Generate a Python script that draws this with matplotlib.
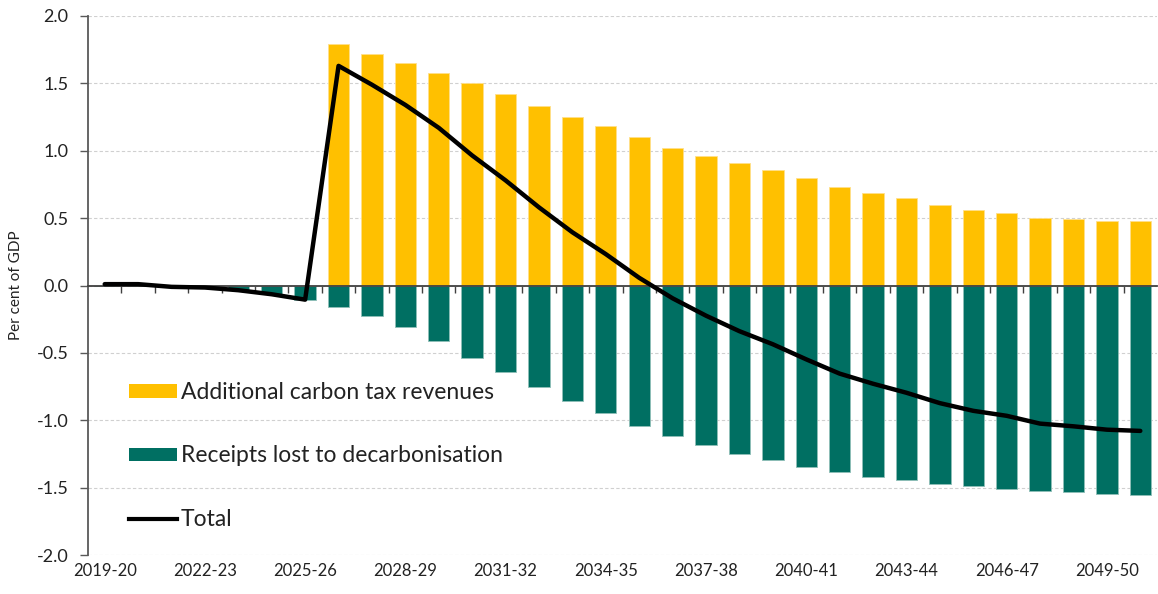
import matplotlib
matplotlib.use("Agg")
import matplotlib.pyplot as plt
from matplotlib.patches import Patch
from matplotlib.lines import Line2D

years = [f"{y}-{str(y + 1)[-2:]}" for y in range(2019, 2051)]

carbon_tax = [0, 0, 0, 0, 0, 0, 0,
              1.79, 1.72, 1.65, 1.58, 1.50, 1.42, 1.33, 1.25, 1.18, 1.10, 1.02,
              0.96, 0.91, 0.86, 0.80, 0.73, 0.69, 0.65, 0.60, 0.56, 0.54, 0.50,
              0.49, 0.475, 0.475]

receipts_lost = [0, 0, 0, -0.01, -0.035, -0.065, -0.105,
                 -0.16, -0.23, -0.31, -0.41, -0.535, -0.64, -0.75, -0.855, -0.947,
                 -1.043, -1.115, -1.184, -1.249, -1.296, -1.348, -1.384, -1.419,
                 -1.446, -1.473, -1.49, -1.507, -1.525, -1.535, -1.545, -1.554]

total = [0.01, 0.01, -0.01, -0.015, -0.035, -0.065, -0.105,
         1.63, 1.49, 1.34, 1.17, 0.965, 0.78, 0.58, 0.395, 0.233,
         0.057, -0.095, -0.224, -0.339, -0.436, -0.548, -0.654, -0.729,
         -0.796, -0.873, -0.93, -0.967, -1.025, -1.045, -1.07, -1.079]

tick_labels = years[::3]

YELLOW = "#FFC000"
GREEN = "#006F62"
FONT = ["Lato", "DejaVu Sans"]
plt.rcParams["font.family"] = FONT

fig = plt.figure(figsize=(11.58, 5.94), dpi=100)
ax = fig.add_axes([88 / 1158, 1 - 555 / 594, (1157 - 88) / 1158, (555 - 16) / 594])

x = list(range(len(years)))
ax.bar(x, carbon_tax, width=0.64, color=YELLOW, edgecolor="#FFE08A", linewidth=0.6, zorder=2)
ax.bar(x, receipts_lost, width=0.64, color=GREEN, edgecolor="#8FBFB8", linewidth=0.6, zorder=2)
ax.plot(x, total, color="black", linewidth=3.2, solid_capstyle="round", solid_joinstyle="round", zorder=4)

ax.set_xlim(-0.5, len(years) - 0.5)
ax.set_ylim(-2.0, 2.0)
yt = [-2.0, -1.5, -1.0, -0.5, 0.0, 0.5, 1.0, 1.5, 2.0]
ax.set_yticks(yt)
ax.set_yticklabels([f"{v:.1f}" for v in yt])
ax.yaxis.grid(True, color="#D0D0D0", linestyle=(0, (3, 2)), linewidth=0.8, zorder=0)
ax.set_axisbelow(True)

for s in ["top", "right"]:
    ax.spines[s].set_visible(False)
ax.spines["left"].set_color("#595959")
ax.spines["left"].set_linewidth(1.3)
ax.spines["bottom"].set_position(("data", 0))
ax.spines["bottom"].set_color("#404040")
ax.spines["bottom"].set_linewidth(1.3)
ax.spines["bottom"].set_zorder(3)

ax.set_xticks([i + 0.5 for i in range(len(years) - 1)])
ax.set_xticklabels([])
ax.tick_params(axis="x", direction="out", length=5, width=1.0, color="#404040")
ax.tick_params(axis="y", direction="out", length=6, width=1.0, color="#595959",
               labelsize=13, labelcolor="#222222", pad=8)

sec = ax.secondary_xaxis(location=0)
sec.set_xticks(x[::3])
sec.set_xticklabels(tick_labels)
sec.tick_params(length=0, labelsize=12, labelcolor="#222222", pad=6)
sec.spines["bottom"].set_visible(False)

ax.set_ylabel("Per cent of GDP", fontsize=11, color="#222222", labelpad=10)

handles = [Patch(facecolor=YELLOW, edgecolor="none"),
           Patch(facecolor=GREEN, edgecolor="none"),
           Line2D([0], [0], color="black", linewidth=3)]
labels = ["Additional carbon tax revenues", "Receipts lost to decarbonisation", "Total"]
leg = ax.legend(handles, labels, loc="center left",
                bbox_to_anchor=(129 / 1158, 1 - 456 / 594), bbox_transform=fig.transFigure,
                frameon=False, fontsize=16.5, handlelength=2.1, handleheight=0.5,
                handletextpad=0.15, labelspacing=1.85, borderpad=0, borderaxespad=0)
for t in leg.get_texts():
    t.set_color("#222222")

fig.savefig("out.png", dpi=100)
